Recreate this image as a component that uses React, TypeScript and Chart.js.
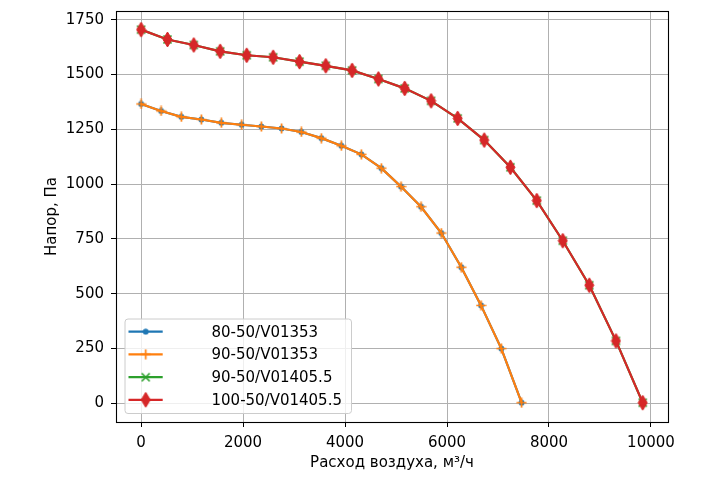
import React, { useEffect, useRef } from 'react';
import { Chart, registerables } from 'chart.js';

Chart.register(...registerables);

const xLabel = 'Расход воздуха, м³/ч';
const yLabel = 'Напор, Па';
const seriesNames = ['80-50/V01353', '90-50/V01353', '90-50/V01405.5', '100-50/V01405.5'];
const seriesColors = ['#1f77b4', '#ff7f0e', '#2ca02c', '#d62728'];

const flow80 = [0, 392, 790, 1182, 1574, 1972, 2358, 2756, 3143, 3535, 3927, 4320, 4712, 5098, 5490, 5888, 6280, 6667, 7065, 7463];
const press80 = [1366, 1334, 1307, 1295, 1280, 1271, 1263, 1254, 1238, 1210, 1175, 1136, 1073, 989, 897, 777, 621, 447, 250, 3];
const flow90a = [0, 392, 790, 1182, 1574, 1972, 2358, 2756, 3143, 3535, 3927, 4320, 4712, 5098, 5490, 5888, 6280, 6667, 7065, 7463];
const press90a = [1366, 1334, 1307, 1295, 1280, 1271, 1263, 1254, 1238, 1210, 1175, 1136, 1073, 989, 897, 777, 621, 447, 250, 3];
const flow90b = [0, 517, 1033, 1551, 2072, 2590, 3108, 3622, 4138, 4655, 5170, 5688, 6209, 6730, 7243, 7760, 8270, 8790, 9314, 9838];
const press90b = [1705, 1660, 1635, 1606, 1588, 1579, 1559, 1540, 1519, 1480, 1437, 1380, 1300, 1201, 1077, 925, 742, 539, 285, 3];
const flow100 = [0, 517, 1033, 1551, 2072, 2590, 3108, 3622, 4138, 4655, 5170, 5688, 6209, 6730, 7243, 7760, 8270, 8790, 9314, 9838];
const press100 = [1705, 1660, 1635, 1606, 1588, 1579, 1559, 1540, 1519, 1480, 1437, 1380, 1300, 1201, 1077, 925, 742, 539, 285, 3];

const xTicks = [0, 2000, 4000, 6000, 8000, 10000];
const yTicks = [0, 250, 500, 750, 1000, 1250, 1500, 1750];

const FONT = "'DejaVu Sans', sans-serif";
const FS = 15;

function makeMarker(kind: string, color: string): HTMLCanvasElement {
  const c = document.createElement('canvas');
  const ctx = c.getContext('2d')!;
  if (kind === 'dot') {
    c.width = 7; c.height = 7;
    ctx.fillStyle = color;
    ctx.beginPath(); ctx.arc(3.5, 3.5, 2.9, 0, Math.PI * 2); ctx.fill();
  } else if (kind === 'plus') {
    c.width = 11; c.height = 11;
    ctx.strokeStyle = color; ctx.lineWidth = 1.7;
    ctx.beginPath(); ctx.moveTo(5.5, 0.5); ctx.lineTo(5.5, 10.5); ctx.moveTo(0.5, 5.5); ctx.lineTo(10.5, 5.5); ctx.stroke();
  } else if (kind === 'x') {
    c.width = 11; c.height = 11;
    ctx.strokeStyle = color; ctx.lineWidth = 1.7;
    ctx.beginPath(); ctx.moveTo(1.5, 1.5); ctx.lineTo(9.5, 9.5); ctx.moveTo(9.5, 1.5); ctx.lineTo(1.5, 9.5); ctx.stroke();
  } else {
    c.width = 11; c.height = 17;
    ctx.fillStyle = color; ctx.strokeStyle = color; ctx.lineWidth = 1;
    ctx.beginPath(); ctx.moveTo(5.5, 1); ctx.lineTo(10, 8.5); ctx.lineTo(5.5, 16); ctx.lineTo(1, 8.5); ctx.closePath();
    ctx.fill(); ctx.stroke();
  }
  return c;
}

export default function App() {
  const ref = useRef<HTMLCanvasElement | null>(null);

  useEffect(() => {
    if (!ref.current) return;
    Chart.defaults.font.family = FONT;
    const markers = [
      makeMarker('dot', seriesColors[0]),
      makeMarker('plus', seriesColors[1]),
      makeMarker('x', seriesColors[2]),
      makeMarker('diamond', seriesColors[3]),
    ];
    const xs = [flow80, flow90a, flow90b, flow100];
    const ys = [press80, press90a, press90b, press100];

    const framePlugin = {
      id: 'frame',
      afterDatasetsDraw(chart: any) {
        const { ctx, chartArea: a } = chart;
        ctx.save();
        ctx.strokeStyle = '#000';
        ctx.lineWidth = 1.1;
        ctx.strokeRect(a.left + 0.5, a.top + 0.5, a.right - a.left, a.bottom - a.top);
        ctx.restore();
      },
      afterDraw(chart: any) {
        const { ctx } = chart;
        ctx.save();
        const bx = 125, by = 319, bw = 226.5, bh = 94.5;
        ctx.beginPath();
        (ctx as any).roundRect(bx, by, bw, bh, 3);
        ctx.fillStyle = 'rgba(255,255,255,0.8)';
        ctx.fill();
        ctx.strokeStyle = '#cccccc';
        ctx.lineWidth = 1;
        ctx.stroke();
        const rows = [331.7, 354.3, 377.2, 399.8];
        ctx.font = `${FS}px ${FONT}`;
        ctx.textBaseline = 'middle';
        ctx.textAlign = 'left';
        seriesNames.forEach((name, i) => {
          const y = rows[i];
          ctx.strokeStyle = seriesColors[i];
          ctx.lineWidth = 2.2;
          ctx.beginPath(); ctx.moveTo(128.5, y); ctx.lineTo(162.7, y); ctx.stroke();
          const m = markers[i];
          ctx.drawImage(m, 145.7 - m.width / 2, y - m.height / 2);
          ctx.fillStyle = '#000';
          ctx.fillText(name, 211.5, y + 1);
        });
        ctx.restore();
      },
    };

    const chart = new Chart(ref.current, {
      type: 'line',
      data: {
        datasets: seriesNames.map((name, i) => ({
          label: name,
          data: xs[i].map((x, j) => ({ x, y: ys[i][j] })),
          borderColor: seriesColors[i],
          backgroundColor: seriesColors[i],
          borderWidth: 2.2,
          pointStyle: markers[i] as any,
          pointRadius: 5,
          pointHoverRadius: 5,
          fill: false,
          tension: 0,
          order: 3 - i,
        })),
      },
      options: {
        animation: false,
        responsive: false,
        maintainAspectRatio: false,
        events: [],
        layout: { padding: { left: 0, top: 11, right: 52, bottom: 0 } },
        plugins: { legend: { display: false }, tooltip: { enabled: false } },
        scales: {
          x: {
            type: 'linear',
            min: -492,
            max: 10334,
            afterBuildTicks: (a: any) => { a.ticks = xTicks.map((v) => ({ value: v })); },
            afterFit: (a: any) => { a.height = 58; a.paddingLeft = 0; a.paddingRight = 0; },
            ticks: { callback: (v: any) => String(v), color: '#000', font: { size: FS }, padding: 7, maxRotation: 0, autoSkip: false },
            grid: { color: '#b0b0b0', lineWidth: 1, tickColor: '#000', tickLength: 5, tickWidth: 1 },
            border: { display: false },
            title: { display: true, text: xLabel, color: '#000', font: { size: FS }, padding: { top: 0, bottom: 8 } },
          },
          y: {
            type: 'linear',
            min: -85,
            max: 1790,
            afterBuildTicks: (a: any) => { a.ticks = yTicks.map((v) => ({ value: v })); },
            afterFit: (a: any) => { a.width = 116; a.paddingTop = 0; a.paddingBottom = 0; },
            ticks: { callback: (v: any) => String(v), color: '#000', font: { size: FS }, padding: 7, autoSkip: false },
            grid: { color: '#b0b0b0', lineWidth: 1, tickColor: '#000', tickLength: 5, tickWidth: 1 },
            border: { display: false },
            title: { display: true, text: yLabel, color: '#000', font: { size: FS }, padding: { top: 43, bottom: 0 } },
          },
        },
      },
      plugins: [framePlugin],
    } as any);
    return () => chart.destroy();
  }, []);

  return (
    <div style={{ position: 'fixed', left: 0, top: 0, width: 720, height: 480, background: '#fff' }}>
      <canvas ref={ref} width={720} height={480} style={{ display: 'block' }} />
    </div>
  );
}
